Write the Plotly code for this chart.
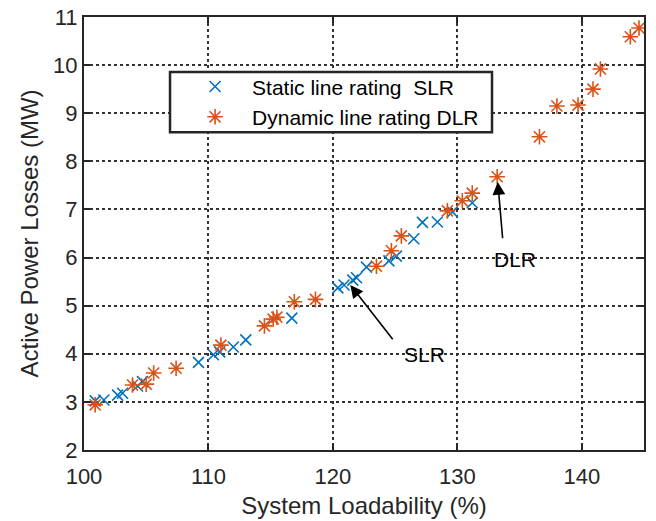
import plotly.graph_objects as go

# Static line rating (SLR)
slr_x = [100.9, 101.6, 102.7, 103.1, 104.3, 104.7, 109.2, 110.4, 110.9, 112.0, 113.0,
         116.7, 120.4, 120.9, 121.6, 121.9, 122.7, 124.5, 125.1, 126.5, 127.2, 128.4,
         129.6, 131.2]
slr_y = [3.02, 3.04, 3.14, 3.18, 3.33, 3.42, 3.82, 3.98, 4.04, 4.14, 4.29,
         4.74, 5.37, 5.43, 5.53, 5.58, 5.80, 5.93, 6.03, 6.39, 6.73, 6.74,
         6.95, 7.14]

# Dynamic line rating (DLR)
dlr_x = [100.9, 103.9, 105.0, 105.6, 107.4, 111.0, 114.5, 115.2, 115.5, 116.9, 118.6,
         123.5, 124.7, 125.5, 129.2, 130.4, 131.2, 133.2, 136.6, 138.0, 139.7, 140.9,
         141.5, 143.9, 144.6]
dlr_y = [2.94, 3.35, 3.37, 3.60, 3.70, 4.18, 4.58, 4.72, 4.76, 5.08, 5.13,
         5.82, 6.14, 6.45, 6.97, 7.18, 7.34, 7.68, 8.51, 9.15, 9.17, 9.50,
         9.92, 10.59, 10.77]

x_ticks = [100, 110, 120, 130, 140]
y_ticks = [2, 3, 4, 5, 6, 7, 8, 9, 10, 11]

FONT = "Liberation Sans, Arial, sans-serif"

fig = go.Figure()
fig.add_trace(go.Scatter(
    x=slr_x, y=slr_y, mode="markers", name="Static line rating  SLR",
    marker=dict(symbol="x-thin-open", size=11, color="#0072BD",
                line=dict(width=1.6, color="#0072BD")),
))
fig.add_trace(go.Scatter(
    x=dlr_x, y=dlr_y, mode="markers", name="Dynamic line rating DLR",
    marker=dict(symbol="asterisk-open", size=13, color="#D95319",
                line=dict(width=1.6, color="#D95319")),
))

# Arrow annotations
fig.add_annotation(x=121.4, y=5.43, ax=124.9, ay=4.27, xref="x", yref="y",
                   axref="x", ayref="y", showarrow=True, arrowhead=2,
                   arrowsize=1.6, arrowwidth=1.6, arrowcolor="black", text="")
fig.add_annotation(x=127.4, y=3.98, xref="x", yref="y", text="SLR",
                   showarrow=False, font=dict(family=FONT, size=21, color="black"))
fig.add_annotation(x=133.25, y=7.57, ax=133.65, ay=6.37, xref="x", yref="y",
                   axref="x", ayref="y", showarrow=True, arrowhead=2,
                   arrowsize=1.6, arrowwidth=1.6, arrowcolor="black", text="")
fig.add_annotation(x=134.6, y=5.95, xref="x", yref="y", text="DLR",
                   showarrow=False, font=dict(family=FONT, size=21, color="black"))

# Legend frame (white box with dark border)
fig.add_shape(type="rect", xref="paper", yref="paper",
              x0=0.1536, x1=0.7286, y0=0.734, y1=0.873,
              line=dict(color="#262626", width=2.5), fillcolor="white",
              layer="above")

axis_common = dict(
    showline=True, linecolor="#262626", linewidth=2, mirror="ticks",
    ticks="inside", ticklen=6, tickwidth=2, tickcolor="#262626",
    showgrid=True, gridcolor="#333333", gridwidth=2, griddash="dot",
    zeroline=False, automargin=False,
    tickfont=dict(family=FONT, size=22, color="#262626"),
)

fig.update_xaxes(range=[100, 145], tickvals=x_ticks, ticklabelstandoff=6,
                 title=dict(text="System Loadability (%)", standoff=9,
                            font=dict(family=FONT, size=24, color="#262626")),
                 **axis_common)
fig.update_yaxes(range=[2, 11], tickvals=y_ticks,
                 title=dict(text="Active Power Losses (MW)", standoff=8,
                            font=dict(family=FONT, size=24, color="#262626")),
                 **axis_common)

fig.update_layout(
    width=656, height=521,
    margin=dict(l=84, r=12, t=17, b=71),
    paper_bgcolor="white", plot_bgcolor="white",
    showlegend=True,
    legend=dict(x=0.168, y=0.886, xanchor="left", yanchor="top",
                bgcolor="rgba(0,0,0,0)", borderwidth=0,
                font=dict(family=FONT, size=21, color="black"),
                itemwidth=64, tracegroupgap=0),
)

fig.write_html("out.html")
